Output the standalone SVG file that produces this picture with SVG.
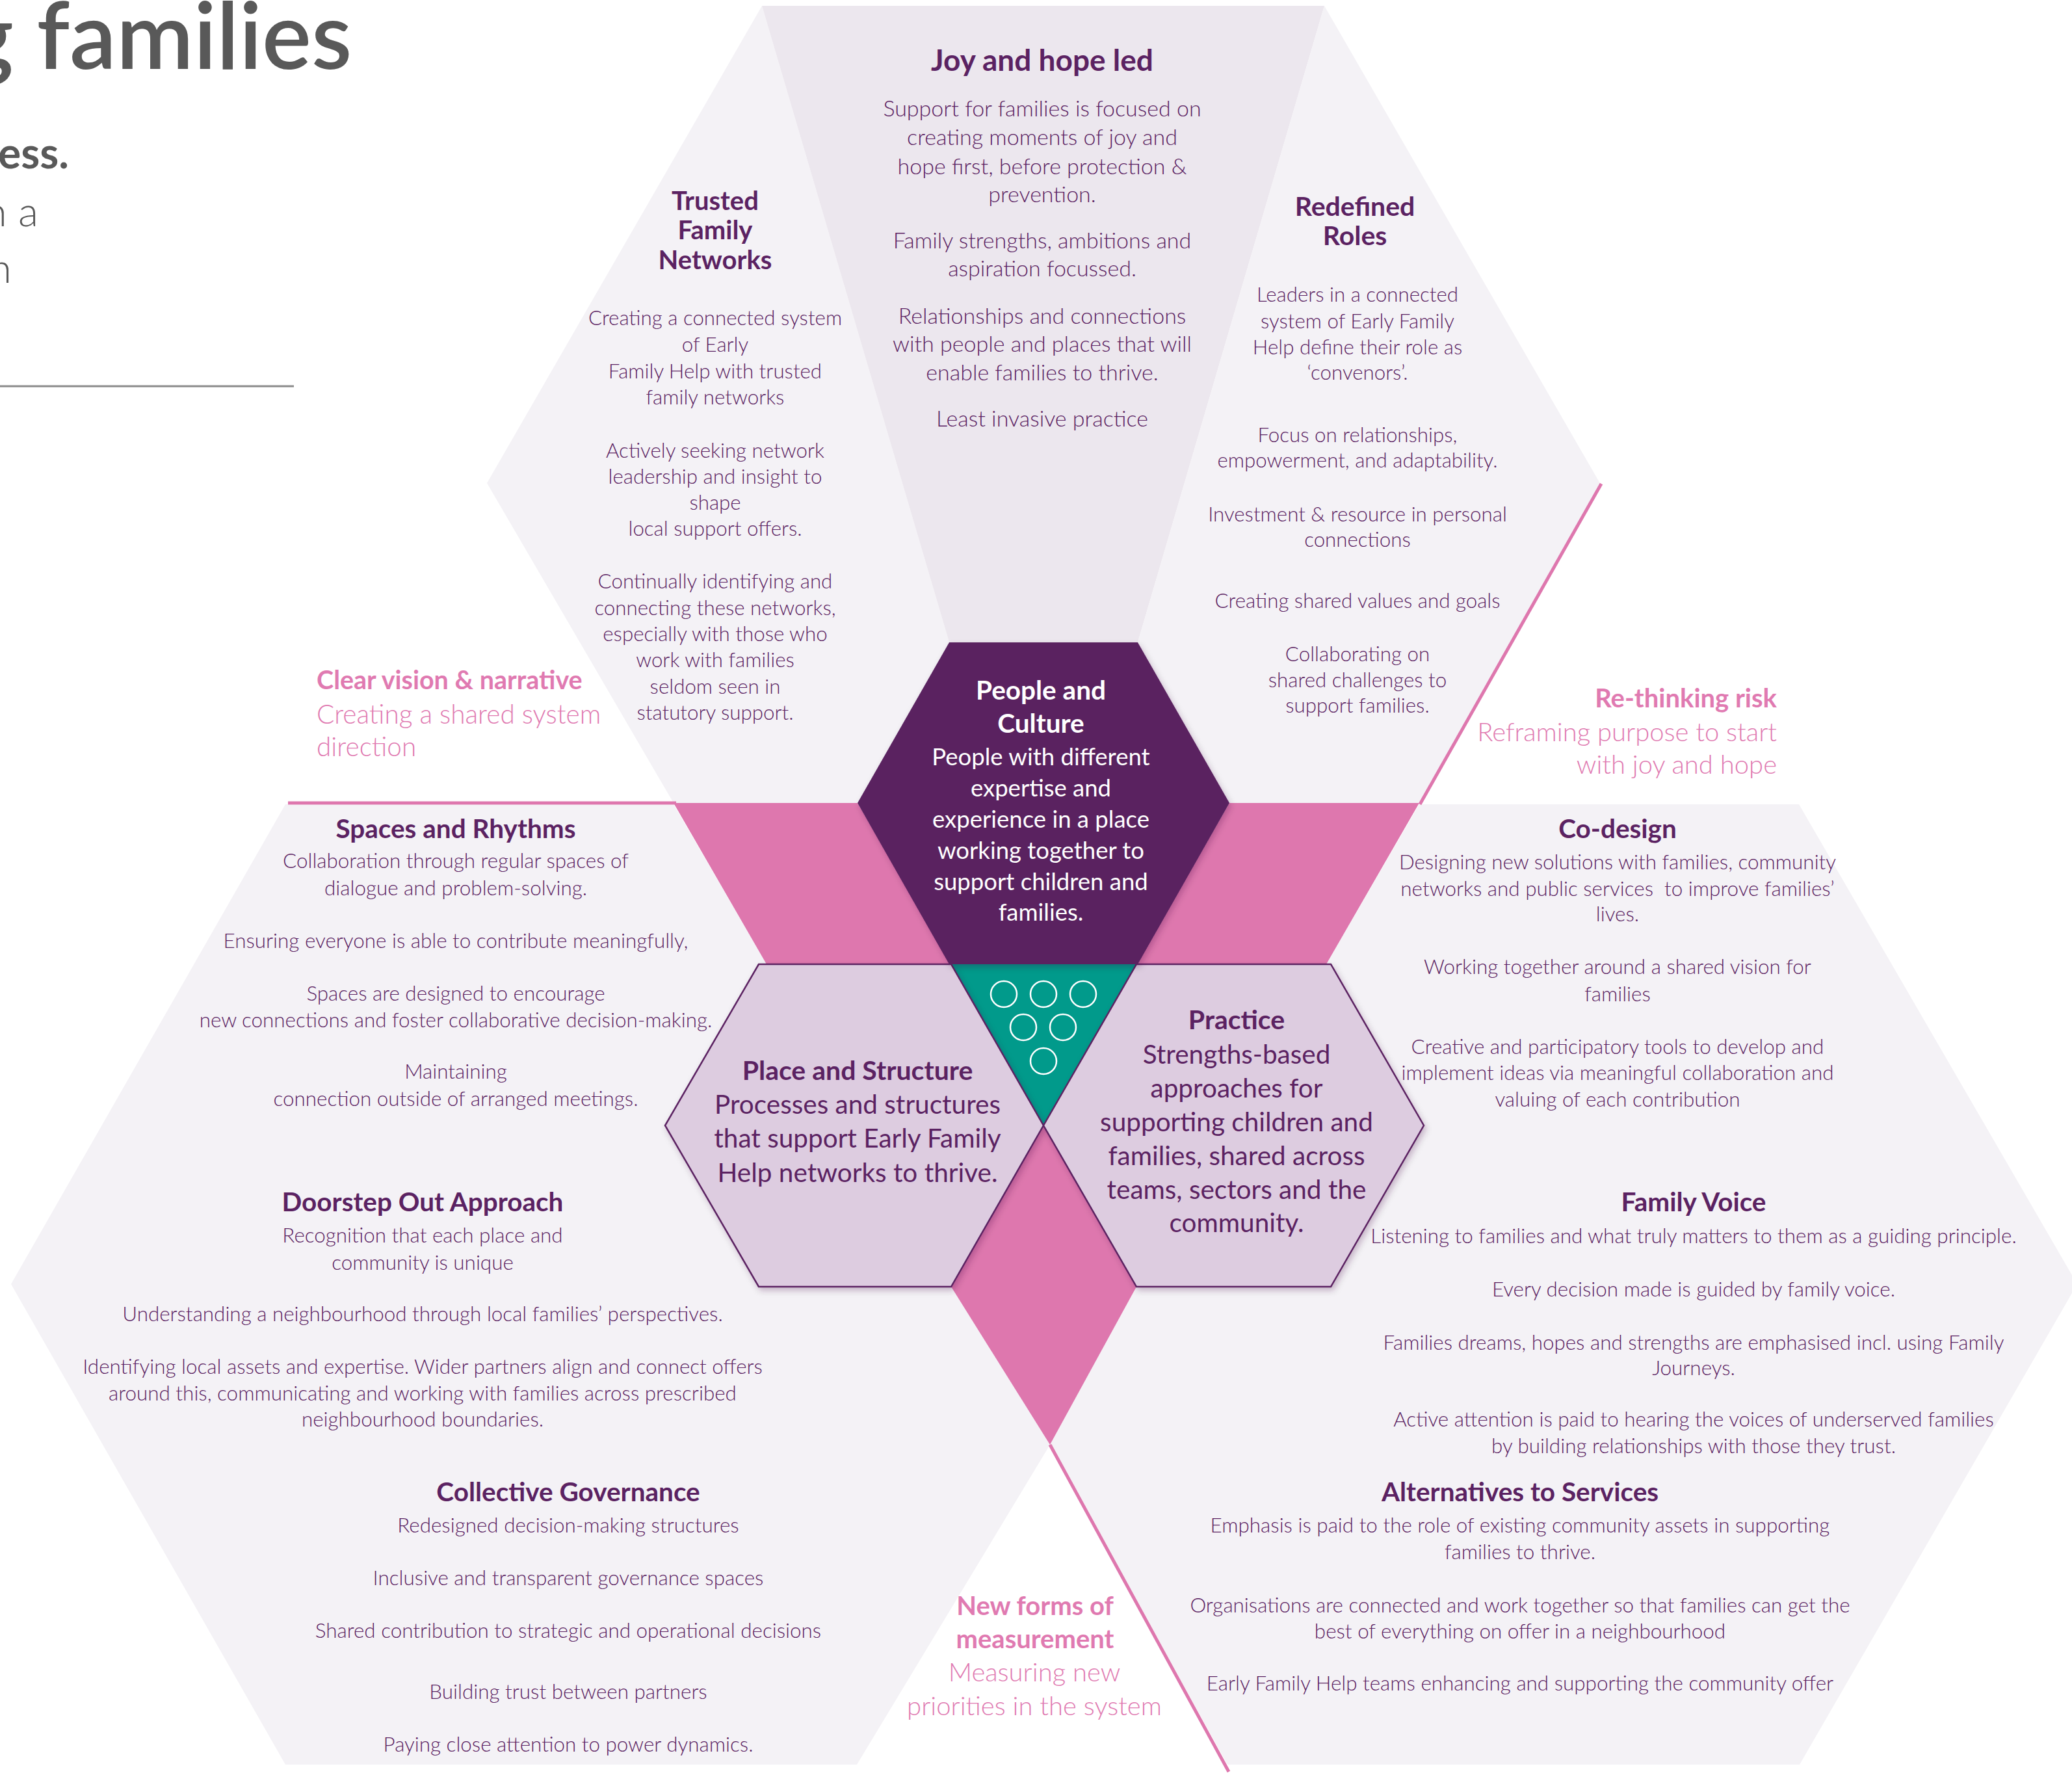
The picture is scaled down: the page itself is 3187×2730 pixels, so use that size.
<svg xmlns="http://www.w3.org/2000/svg" width="3187" height="2730" viewBox="0 0 3187 2730">
<defs>
<style>
text{font-family:Lato,"Liberation Sans",sans-serif}
.h{font-weight:700;fill:#5B2262;text-anchor:middle}
.b{font-weight:300;fill:#5B2262;text-anchor:middle}
.w{font-weight:400;fill:#FFFFFF;text-anchor:middle}
.wh{font-weight:700;fill:#FFFFFF;text-anchor:middle}
.m{font-weight:400;fill:#5B2262;text-anchor:middle}
.pk{font-weight:700;fill:#E07AB1}
.pl{font-weight:300;fill:#E07AB1}
.sec{fill:#F4F2F6}
.pink{fill:#DE77AE}
.hexl{fill:#DDCCE0;stroke:#5B2262;stroke-width:2.5;stroke-linejoin:miter}
.line{stroke:#DE77AE;stroke-width:5;fill:none;stroke-linecap:butt}
</style>
<filter id="sh" x="-10%" y="-10%" width="120%" height="120%">
<feDropShadow dx="3" dy="5" stdDeviation="5" flood-color="#3a1040" flood-opacity="0.25"/>
</filter>
</defs>
<rect x="0" y="0" width="3187" height="2730" fill="#FFFFFF"/>

<g id="title-fragment">
<text x="-54" y="106" font-size="143" font-weight="600" fill="#595959">g families</text>
<text x="106" y="259" font-size="66" font-weight="700" fill="#595959" text-anchor="end">ess.</text>
<text x="59" y="348" font-size="64" font-weight="300" fill="#595959" text-anchor="end">n a</text>
<text x="18" y="435" font-size="64" font-weight="300" fill="#595959" text-anchor="end">n</text>
<line x1="0" y1="594" x2="452" y2="594" stroke="#8A8A8A" stroke-width="3"/>
</g>

<g id="node-trusted-family-networks">
<polygon class="sec" points="1172,9 1460,988 1319,1235 1036,1235 749,743"/>
<text class="h" font-size="40" x="1100" y="323">Trusted</text>
<text class="h" font-size="40" x="1100" y="368">Family</text>
<text class="h" font-size="40" x="1100" y="414">Networks</text>
<g class="b" font-size="31.3">
<text x="1100" y="500">Creating a connected system</text>
<text x="1100" y="541">of Early</text>
<text x="1100" y="582">Family Help with trusted</text>
<text x="1100" y="622">family networks</text>
<text x="1100" y="704">Actively seeking network</text>
<text x="1100" y="744">leadership and insight to</text>
<text x="1100" y="784">shape</text>
<text x="1100" y="824">local support offers.</text>
<text x="1100" y="905">Continually identifying and</text>
<text x="1100" y="946">connecting these networks,</text>
<text x="1100" y="986">especially with those who</text>
<text x="1100" y="1026">work with families</text>
<text x="1100" y="1067">seldom seen in</text>
<text x="1100" y="1107">statutory support.</text>
</g>
</g>

<g id="node-joy-and-hope-led">
<polygon points="1172,9 2037,9 1750,988 1460,988" fill="#ECE7EE"/>
<text class="h" font-size="46" x="1603" y="109">Joy and hope led</text>
<g class="b" font-size="34">
<text x="1603" y="179">Support for families is focused on</text>
<text x="1603" y="223">creating moments of joy and</text>
<text x="1603" y="268">hope first, before protection &amp;</text>
<text x="1603" y="311">prevention.</text>
<text x="1603" y="382">Family strengths, ambitions and</text>
<text x="1603" y="425">aspiration focussed.</text>
<text x="1603" y="498">Relationships and connections</text>
<text x="1603" y="541">with people and places that will</text>
<text x="1603" y="585">enable families to thrive.</text>
<text x="1603" y="656">Least invasive practice</text>
</g>
</g>

<g id="node-redefined-roles">
<polygon class="sec" points="2037,9 2462,745 2183,1235 1891,1235 1750,988"/>
<text class="h" font-size="41" x="2084" y="332">Redefined</text>
<text class="h" font-size="41" x="2084" y="377">Roles</text>
<g class="b" font-size="31.3">
<text x="2088" y="464">Leaders in a connected</text>
<text x="2088" y="505">system of Early Family</text>
<text x="2088" y="545">Help define their role as</text>
<text x="2088" y="584">‘convenors’.</text>
<text x="2088" y="680">Focus on relationships,</text>
<text x="2088" y="719">empowerment, and adaptability.</text>
<text x="2088" y="802">Investment &amp; resource in personal</text>
<text x="2088" y="841">connections</text>
<text x="2088" y="935">Creating shared values and goals</text>
<text x="2088" y="1017">Collaborating on</text>
<text x="2088" y="1057">shared challenges to</text>
<text x="2088" y="1096">support families.</text>
</g>
</g>

<g id="node-bottom-left">
<polygon class="sec" points="439,1237 1036,1237 1179,1483 1463,1483 1605,1731 1463,1979 1615,2222 1318,2714 439,2714 17,1975"/>
</g>
<g id="node-bottom-right">
<polygon class="sec" points="2183,1237 2767,1237 3195,1975 2768,2714 1888,2714 1615,2222 1748,1979 1605,1731 1748,1483 2040,1483"/>
</g>

<g id="node-pink-bands">
<polygon class="pink" points="1036,1235 1319,1235 1463,1483 1179,1483"/>
<polygon class="pink" points="1891,1235 2183,1235 2040,1483 1748,1483"/>
<polygon class="pink" points="1605,1731 1748,1979 1615,2222 1463,1979"/>
</g>

<g id="node-teal-triangle">
<polygon points="1460,1483 1750,1483 1605,1731" fill="#019A8B"/>
<g fill="none" stroke="#FFFFFF" stroke-width="2.5">
<circle cx="1544" cy="1529" r="20"/>
<circle cx="1605" cy="1529" r="20"/>
<circle cx="1666" cy="1529" r="20"/>
<circle cx="1574" cy="1580" r="20"/>
<circle cx="1635" cy="1580" r="20"/>
<circle cx="1605" cy="1632" r="20"/>
</g>
</g>

<g id="node-place-and-structure">
<polygon class="hexl" filter="url(#sh)" points="1605,1731 1463,1979 1167,1979 1023,1731 1167,1483 1463,1483"/>
<text class="h" font-size="41" x="1319" y="1661">Place and Structure</text>
<g class="m" font-size="40.5">
<text x="1319" y="1713">Processes and structures</text>
<text x="1319" y="1765">that support Early Family</text>
<text x="1319" y="1818">Help networks to thrive.</text>
</g>
</g>

<g id="node-practice">
<polygon class="hexl" filter="url(#sh)" points="1605,1731 1748,1483 2047,1483 2190,1731 2047,1979 1748,1979"/>
<text class="h" font-size="41" x="1902" y="1583">Practice</text>
<g class="m" font-size="40.5">
<text x="1902" y="1636">Strengths-based</text>
<text x="1902" y="1688">approaches for</text>
<text x="1902" y="1740">supporting children and</text>
<text x="1902" y="1792">families, shared across</text>
<text x="1902" y="1844">teams, sectors and the</text>
<text x="1902" y="1895">community.</text>
</g>
</g>

<g id="node-people-and-culture">
<polygon filter="url(#sh)" fill="#5A2261" points="1460,988 1750,988 1891,1235 1750,1483 1460,1483 1319,1235"/>
<text class="wh" font-size="40.5" x="1601" y="1076">People and</text>
<text class="wh" font-size="40.5" x="1601" y="1127">Culture</text>
<g class="w" font-size="36.5">
<text x="1601" y="1177">People with different</text>
<text x="1601" y="1225">expertise and</text>
<text x="1601" y="1273">experience in a place</text>
<text x="1601" y="1321">working together to</text>
<text x="1601" y="1369">support children and</text>
<text x="1601" y="1416">families.</text>
</g>
</g>

<g id="connectors">
<line class="line" x1="443" y1="1235" x2="1040" y2="1235"/>
<line class="line" x1="2463" y1="744" x2="2184" y2="1237"/>
<line class="line" x1="1615" y1="2222" x2="1890" y2="2725"/>
</g>

<g id="node-spaces-and-rhythms">
<text class="h" font-size="40.5" x="701" y="1289">Spaces and Rhythms</text>
<g class="b" font-size="31.4">
<text x="701" y="1335">Collaboration through regular spaces of</text>
<text x="701" y="1377">dialogue and problem-solving.</text>
<text x="701" y="1458">Ensuring everyone is able to contribute meaningfully,</text>
<text x="701" y="1539">Spaces are designed to encourage</text>
<text x="701" y="1580">new connections and foster collaborative decision-making.</text>
<text x="701" y="1659">Maintaining</text>
<text x="701" y="1701">connection outside of arranged meetings.</text>
</g>
</g>

<g id="node-doorstep-out-approach">
<text class="h" font-size="40.5" x="650" y="1863">Doorstep Out Approach</text>
<g class="b" font-size="31.4">
<text x="650" y="1911">Recognition that each place and</text>
<text x="650" y="1953">community is unique</text>
<text x="650" y="2032">Understanding a neighbourhood through local families’ perspectives.</text>
<text x="650" y="2113">Identifying local assets and expertise. Wider partners align and connect offers</text>
<text x="650" y="2154">around this, communicating and working with families across prescribed</text>
<text x="650" y="2194">neighbourhood boundaries.</text>
</g>
</g>

<g id="node-collective-governance">
<text class="h" font-size="40.5" x="874" y="2309">Collective Governance</text>
<g class="b" font-size="31.4">
<text x="874" y="2357">Redesigned decision-making structures</text>
<text x="874" y="2438">Inclusive and transparent governance spaces</text>
<text x="874" y="2519">Shared contribution to strategic and operational decisions</text>
<text x="874" y="2613">Building trust between partners</text>
<text x="874" y="2694">Paying close attention to power dynamics.</text>
</g>
</g>

<g id="node-co-design">
<text class="h" font-size="40.5" x="2488" y="1289">Co-design</text>
<g class="b" font-size="31.4">
<text x="2488" y="1337">Designing new solutions with families, community</text>
<text x="2488" y="1378" xml:space="preserve">networks and public services  to improve families’</text>
<text x="2488" y="1417">lives.</text>
<text x="2488" y="1498">Working together around a shared vision for</text>
<text x="2488" y="1540">families</text>
<text x="2488" y="1621">Creative and participatory tools to develop and</text>
<text x="2488" y="1661">implement ideas via meaningful collaboration and</text>
<text x="2488" y="1702">valuing of each contribution</text>
</g>
</g>

<g id="node-family-voice">
<text class="h" font-size="40.5" x="2605" y="1863">Family Voice</text>
<g class="b" font-size="31.4">
<text x="2605" y="1912">Listening to families and what truly matters to them as a guiding principle.</text>
<text x="2605" y="1994">Every decision made is guided by family voice.</text>
<text x="2605" y="2076">Families dreams, hopes and strengths are emphasised incl. using Family</text>
<text x="2605" y="2115">Journeys.</text>
<text x="2605" y="2194">Active attention is paid to hearing the voices of underserved families</text>
<text x="2605" y="2235">by building relationships with those they trust.</text>
</g>
</g>

<g id="node-alternatives-to-services">
<text class="h" font-size="40.5" x="2338" y="2309">Alternatives to Services</text>
<g class="b" font-size="31.4">
<text x="2338" y="2357">Emphasis is paid to the role of existing community assets in supporting</text>
<text x="2338" y="2398">families to thrive.</text>
<text x="2338" y="2480">Organisations are connected and work together so that families can get the</text>
<text x="2338" y="2520">best of everything on offer in a neighbourhood</text>
<text x="2338" y="2600">Early Family Help teams enhancing and supporting the community offer</text>
</g>
</g>

<g id="label-clear-vision">
<text class="pk" font-size="39.5" x="487" y="1060">Clear vision &amp; narrative</text>
<text class="pl" font-size="40.5" x="487" y="1113">Creating a shared system</text>
<text class="pl" font-size="40.5" x="487" y="1163">direction</text>
</g>

<g id="label-rethinking-risk">
<text class="pk" font-size="40" x="2733" y="1088" text-anchor="end">Re-thinking risk</text>
<text class="pl" font-size="40" x="2733" y="1140" text-anchor="end">Reframing purpose to start</text>
<text class="pl" font-size="40" x="2733" y="1190" text-anchor="end">with joy and hope</text>
</g>

<g id="label-new-forms-of-measurement">
<text class="pk" font-size="40" x="1592" y="2484" text-anchor="middle">New forms of</text>
<text class="pk" font-size="40" x="1592" y="2535" text-anchor="middle">measurement</text>
<text class="pl" font-size="40" x="1591" y="2586" text-anchor="middle">Measuring new</text>
<text class="pl" font-size="40" x="1591" y="2638" text-anchor="middle">priorities in the system</text>
</g>
</svg>
